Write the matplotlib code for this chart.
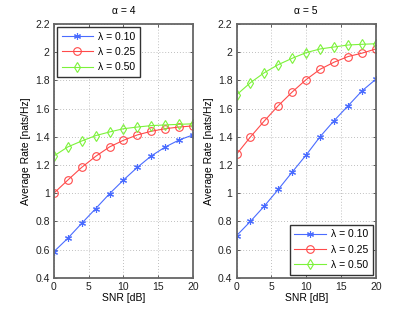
import matplotlib
matplotlib.use("Agg")
import matplotlib.pyplot as plt

plt.rcParams['font.family'] = ['Liberation Sans', 'DejaVu Sans']

snr = [0, 2, 4, 6, 8, 10, 12, 14, 16, 18, 20]
labels = ['λ = 0.10', 'λ = 0.25', 'λ = 0.50']
titles = ['α = 4', 'α = 5']

a4_l010 = [0.585, 0.68, 0.786, 0.89, 0.996, 1.093, 1.183, 1.264, 1.327, 1.377, 1.413]
a4_l025 = [1.0, 1.093, 1.183, 1.261, 1.328, 1.375, 1.413, 1.439, 1.457, 1.469, 1.477]
a4_l050 = [1.264, 1.328, 1.37, 1.408, 1.434, 1.457, 1.469, 1.479, 1.484, 1.488, 1.492]

a5_l010 = [0.698, 0.80, 0.909, 1.027, 1.15, 1.271, 1.401, 1.514, 1.619, 1.725, 1.808]
a5_l025 = [1.276, 1.399, 1.513, 1.621, 1.718, 1.806, 1.879, 1.929, 1.969, 1.993, 2.023]
a5_l050 = [1.697, 1.784, 1.855, 1.912, 1.957, 1.997, 2.023, 2.037, 2.051, 2.056, 2.06]

colors = ['#4a6cff', '#ff4a4a', '#7cf23a']
asterisk = (6, 2, 0)
markers = [asterisk, 'o', 'd']
msizes = [5, 5.5, 5.5]

FS = 7.5

fig = plt.figure(figsize=(4.15, 3.13), dpi=100)
ax1 = fig.add_axes([0.130, 0.1128, 0.335, 0.8105])
ax2 = fig.add_axes([0.570, 0.1128, 0.3357, 0.8105])

datasets = [[a4_l010, a4_l025, a4_l050], [a5_l010, a5_l025, a5_l050]]
legend_locs = ['upper left', 'lower right']

for ax, data, title, loc in zip([ax1, ax2], datasets, titles, legend_locs):
    for ys, c, m, ms, lab in zip(data, colors, markers, msizes, labels):
        ax.plot(snr, ys, color=c, marker=m, markersize=ms, linewidth=0.8,
                markerfacecolor='none', markeredgecolor=c,
                markeredgewidth=0.8, label=lab)
    ax.set_xlim(0, 20)
    ax.set_ylim(0.4, 2.2)
    ax.set_xticks([0, 5, 10, 15, 20])
    ax.set_yticks([0.4, 0.6, 0.8, 1.0, 1.2, 1.4, 1.6, 1.8, 2.0, 2.2])
    ax.set_yticklabels(['0.4', '0.6', '0.8', '1', '1.2', '1.4', '1.6', '1.8', '2', '2.2'])
    ax.grid(True, linestyle=(0, (1, 2.5)), color='#aaaaaa', linewidth=0.6)
    ax.tick_params(direction='in', labelsize=FS, length=2.5, width=0.5, colors='#222222',
                   top=True, right=True, pad=3)
    for s in ax.spines.values():
        s.set_color('#666666')
        s.set_linewidth(1.3)
    ax.set_title(title, fontsize=FS, pad=7)
    ax.set_xlabel('SNR [dB]', fontsize=FS, labelpad=1)
    ax.set_ylabel('Average Rate [nats/Hz]', fontsize=FS, labelpad=3)
    leg = ax.legend(loc=loc, fontsize=FS, fancybox=False, framealpha=1,
                    edgecolor='#333333', borderpad=0.45, handlelength=3.0,
                    labelspacing=0.5, borderaxespad=0.3, handletextpad=0.5)
    leg.get_frame().set_linewidth(1.0)

fig.savefig('out.png', dpi=100)
